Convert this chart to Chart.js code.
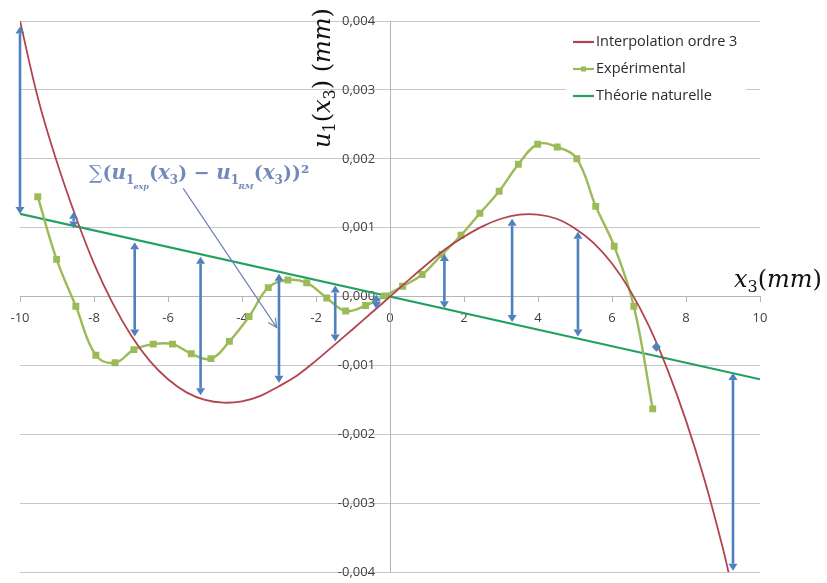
<!DOCTYPE html>
<html>
<head>
<meta charset="utf-8">
<script src="https://cdn.jsdelivr.net/npm/chart.js@4.4.0/dist/chart.umd.min.js"></script>
<style>
body{margin:0;background:#fff;}
#wrap{position:relative;width:827px;height:583px;}
</style>
</head>
<body>
<div id="wrap"><canvas id="deflectionChart"></canvas></div>
<script>
// interpolation ordre 3
const interpX = [-10,-9.5,-9,-8.5,-8,-7.5,-7,-6.5,-6,-5.5,-5,-4.5,-4,-3.5,-3,-2.5,-2,-1.5,-1,-0.5,0,0.5,1,1.5,2,2.5,3,3.5,4,4.5,5,5.5,6,6.5,7,7.5,8,8.5,9,9.15];
const interpY = [0.0040,0.00285,0.00195,0.00117,0.00048,-0.00009,-0.00056,-0.00093,-0.0012,-0.00139,-0.0015,-0.00154,-0.00152,-0.00144,-0.0013,-0.00114,-0.00093,-0.0007,-0.00047,-0.000235,0,0.00024,0.00047,0.00069,0.00087,0.00102,0.00113,0.00119,0.00119,0.00113,0.00099,0.00078,0.00048,0.00008,-0.00043,-0.00106,-0.0018,-0.00266,-0.00366,-0.004];

// experimental points
const expX = [-9.52,-9.01,-8.49,-7.95,-7.43,-6.92,-6.4,-5.88,-5.37,-4.84,-4.34,-3.81,-3.29,-2.76,-2.25,-1.71,-1.2,-0.66,-0.14,0.34,0.87,1.40,1.92,2.43,2.95,3.47,3.99,4.52,5.05,5.56,6.06,6.59,7.10];
const expY = [0.00145,0.00054,-0.00014,-0.00085,-0.00096,-0.00077,-0.00069,-0.00069,-0.00083,-0.0009,-0.00065,-0.00029,0.00013,0.00024,0.0002,-0.00002,-0.00021,-0.00013,0.00001,0.00015,0.00032,0.00061,0.00089,0.00121,0.00153,0.00192,0.00221,0.00217,0.002,0.00131,0.00073,-0.00014,-0.00163];

// theorie naturelle
const theoryX = [-10, 10];
const theoryY = [0.0012, -0.0012];

// double arrows (ecarts)
const arrowX = [-10,-8.55,-6.9,-5.12,-3.0,-1.48,-0.37,1.47,3.3,5.08,7.2,9.27];
const arrowStart = [0.0012,0.00099,0.00079,0.00058,0.00033,0.00016,0.00003,-0.00017,-0.00037,-0.00058,-0.0008,-0.00111];
const arrowEnd = [0.00392,0.00123,-0.00058,-0.00143,-0.00125,-0.00065,-0.00018,0.00062,0.00113,0.00094,-0.00066,-0.00398];

// pointer from the formula to the arrows
const pointerX = [-5.59, -3.06];
const pointerY = [0.00157, -0.00045];

const xTickLabels = ["-10","-8","-6","-4","-2","0","2","4","6","8","10"];
const yTickLabels = ["-0,004","-0,003","-0,002","-0,001","0,000","0,001","0,002","0,003","0,004"];

const toPoints = (xs, ys) => xs.map((x, i) => ({x: x, y: ys[i]}));

const blue = "#4F81BD";

function drawRuns(ctx, runs, x, y){
    runs.forEach((r)=>{
        ctx.font = r.font;
        ctx.fillText(r.t, x, y + (r.dy || 0));
        x += ctx.measureText(r.t).width + (r.gap || 0);
    });
}

const extrasPlugin = {
    id: "extras",
    afterDatasetsDraw(chart){
        const ctx = chart.ctx;
        const xs = chart.scales.x;
        const ys = chart.scales.y;
        ctx.save();

        // arrows
        ctx.strokeStyle = blue;
        ctx.fillStyle = blue;
        ctx.lineWidth = 2.6;
        arrowX.forEach((v, i)=>{
            const px = xs.getPixelForValue(v);
            const a = ys.getPixelForValue(arrowStart[i]);
            const b = ys.getPixelForValue(arrowEnd[i]);
            const top = Math.min(a, b), bot = Math.max(a, b);
            const head = Math.min(7, (bot - top) / 2);
            ctx.beginPath();
            ctx.moveTo(px, top + head);
            ctx.lineTo(px, bot - head);
            ctx.stroke();
            ctx.beginPath();
            ctx.moveTo(px, top); ctx.lineTo(px - 4.5, top + head); ctx.lineTo(px + 4.5, top + head);
            ctx.closePath(); ctx.fill();
            ctx.beginPath();
            ctx.moveTo(px, bot); ctx.lineTo(px - 4.5, bot - head); ctx.lineTo(px + 4.5, bot - head);
            ctx.closePath(); ctx.fill();
        });

        // pointer line
        const x1 = xs.getPixelForValue(pointerX[0]), y1 = ys.getPixelForValue(pointerY[0]);
        const x2 = xs.getPixelForValue(pointerX[1]), y2 = ys.getPixelForValue(pointerY[1]);
        const ang = Math.atan2(y2 - y1, x2 - x1);
        ctx.strokeStyle = "#6F83B4";
        ctx.lineWidth = 1.2;
        ctx.beginPath();
        ctx.moveTo(x1, y1); ctx.lineTo(x2, y2);
        ctx.moveTo(x2 - 10 * Math.cos(ang - 0.45), y2 - 10 * Math.sin(ang - 0.45));
        ctx.lineTo(x2, y2);
        ctx.lineTo(x2 - 10 * Math.cos(ang + 0.45), y2 - 10 * Math.sin(ang + 0.45));
        ctx.stroke();

        // formula
        ctx.fillStyle = "#7389BC";
        ctx.textBaseline = "alphabetic";
        const bi = "italic bold 20px 'DejaVu Serif'";
        const b = "bold 19px 'DejaVu Serif'";
        const s1 = "bold 12px 'DejaVu Serif'";
        const s2 = "italic bold 8px 'DejaVu Serif'";
        drawRuns(ctx, [
            {t:"\u2211", font:"19px 'DejaVu Serif'"},
            {t:"(", font:b}, {t:"u", font:bi}, {t:"1", font:s1, dy:5, gap:-1}, {t:"exp", font:s2, dy:10},
            {t:"(", font:b}, {t:"x", font:bi}, {t:"3", font:s1, dy:5}, {t:") \u2212 ", font:b},
            {t:"u", font:bi}, {t:"1", font:s1, dy:5, gap:-1}, {t:"RM", font:s2, dy:10},
            {t:"(", font:b}, {t:"x", font:bi}, {t:"3", font:s1, dy:5}, {t:"))\u00B2", font:b}
        ], 89, 179);

        // axis titles
        ctx.fillStyle = "#111";
        const it = "italic 24px 'DejaVu Serif'";
        const up = "24px 'DejaVu Serif'";
        const sb = "16px 'DejaVu Serif'";
        drawRuns(ctx, [
            {t:"x", font:it}, {t:"3", font:sb, dy:5}, {t:"(", font:up}, {t:"mm", font:it}, {t:")", font:up}
        ], 734, 287);

        ctx.translate(330, 148);
        ctx.rotate(-Math.PI / 2);
        drawRuns(ctx, [
            {t:"u", font:it}, {t:"1", font:sb, dy:5}, {t:"(", font:up}, {t:"x", font:it}, {t:"3", font:sb, dy:5},
            {t:") (", font:up}, {t:"mm", font:it}, {t:")", font:up}
        ], 0, 0);
        ctx.restore();

        // legend
        ctx.save();
        ctx.fillStyle = "#fff";
        ctx.fillRect(566, 28, 180, 82);
        ctx.font = "14.5px 'Open Sans'";
        ctx.textBaseline = "middle";
        chart.data.datasets.forEach((ds, i)=>{
            const yy = 42 + i * 27;
            ctx.strokeStyle = ds.borderColor;
            ctx.lineWidth = 2.2;
            ctx.beginPath();
            ctx.moveTo(573, yy); ctx.lineTo(594, yy);
            ctx.stroke();
            if(ds.pointRadius > 0){
                ctx.fillStyle = ds.pointBackgroundColor;
                ctx.fillRect(581, yy - 2.5, 5, 5);
            }
            ctx.fillStyle = "#2b2b2b";
            ctx.fillText(ds.label, 596, yy);
        });
        ctx.restore();
    }
};

const ctx = document.getElementById("deflectionChart");

const deflectionChart = new Chart(ctx,{
    type:"line",
    data:{
        datasets:[
            {
                label:"Interpolation ordre 3",
                data:toPoints(interpX, interpY),
                borderColor:"#B0454F",
                borderWidth:1.8,
                pointRadius:0,
                tension:.4
            },
            {
                label:"Expérimental",
                data:toPoints(expX, expY),
                borderColor:"#9BBB59",
                backgroundColor:"#9BBB59",
                pointBackgroundColor:"#9BBB59",
                pointBorderColor:"#9BBB59",
                pointStyle:"rect",
                pointRadius:3.2,
                borderWidth:2.4,
                tension:.4
            },
            {
                label:"Théorie naturelle",
                data:toPoints(theoryX, theoryY),
                borderColor:"#22A060",
                borderWidth:2.2,
                pointRadius:0,
                tension:0
            }
        ]
    },
    options:{
        responsive:true,
        maintainAspectRatio:false,
        animation:false,
        events:[],
        layout:{
            padding:{left:20, right:67, top:21, bottom:9}
        },
        scales:{
            x:{
                type:"linear",
                position:{y:0},
                min:-10,
                max:10,
                ticks:{
                    stepSize:2,
                    padding:9,
                    color:"#404040",
                    font:{family:"'Open Sans'", size:13},
                    callback:(v)=>xTickLabels[Math.round((v + 10) / 2)]
                },
                grid:{drawOnChartArea:false, color:"#b5b5b5", tickLength:5},
                border:{color:"#b5b5b5"}
            },
            y:{
                type:"linear",
                position:{x:0},
                min:-0.004,
                max:0.004,
                ticks:{
                    stepSize:0.001,
                    color:"#404040",
                    font:{family:"'Open Sans'", size:13},
                    callback:(v)=>yTickLabels[Math.round((v + 0.004) * 1000)] + "\u2007\u2007"
                },
                grid:{color:"#c8c8c8", drawTicks:false},
                border:{color:"#b5b5b5"}
            }
        },
        plugins:{
            legend:{display:false},
            tooltip:{enabled:false}
        }
    },
    plugins:[extrasPlugin]
});
</script>
</body>
</html>
